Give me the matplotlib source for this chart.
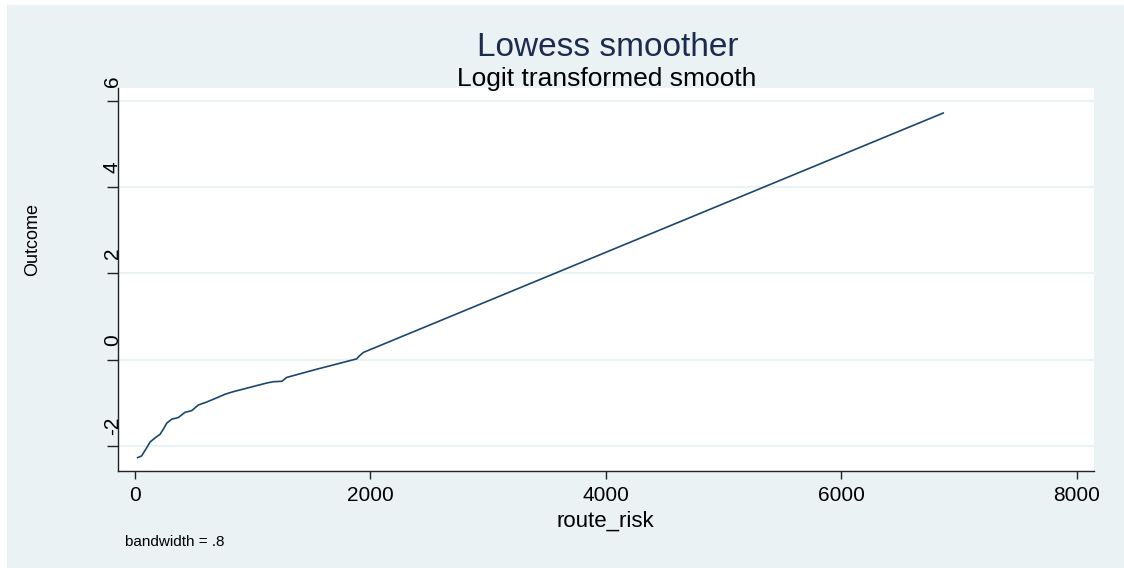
import numpy as np
import matplotlib.pyplot as plt
from matplotlib.patches import Rectangle
from matplotlib.transforms import ScaledTranslation

plt.rcParams['font.family'] = ['Liberation Sans', 'DejaVu Sans']

route_risk = [24, 58, 78, 101, 129, 172, 214, 242, 271, 313, 369, 426, 483,
              539, 611, 681, 766, 837, 978, 1120, 1176, 1248, 1290, 1545,
              1884, 1907, 1941, 6864]
outcome = [-2.27, -2.23, -2.14, -2.04, -1.91, -1.81, -1.73, -1.61, -1.47,
           -1.38, -1.34, -1.22, -1.18, -1.05, -0.98, -0.90, -0.80, -0.74,
           -0.64, -0.54, -0.51, -0.50, -0.41, -0.22, 0.02, 0.09, 0.17, 5.72]

x_ticks = [0, 2000, 4000, 6000, 8000]
y_ticks = [-2, 0, 2, 4, 6]

bg = '#eaf2f3'
navy = '#1a476f'

fig = plt.figure(figsize=(11.24, 5.68), dpi=100, facecolor='white')
fig.patches.append(Rectangle((7/1124, 0), 1, 1 - 5/568, transform=fig.transFigure,
                             facecolor=bg, edgecolor='none', zorder=-10))

ax = fig.add_axes([118/1124, 1 - 471/568, (1094 - 118)/1124, (471 - 88)/568])
ax.set_zorder(1)
ax.set_facecolor('white')
ax.plot(route_risk, outcome, '-', color=navy, linewidth=1.2, zorder=3)

ax.set_xlim(-143, 8144)
ax.set_ylim(-2.58, 6.3)
ax.set_xticks(x_ticks)
ax.set_yticks(y_ticks)
ax.set_yticklabels([str(v) for v in y_ticks], rotation=90, va='center')
ax.grid(axis='y', color=bg, linewidth=1.5)
ax.set_axisbelow(True)

for s in ['top', 'right']:
    ax.spines[s].set_visible(False)
for s in ['left', 'bottom']:
    ax.spines[s].set_color('#222222')
    ax.spines[s].set_linewidth(1.0)

ax.tick_params(axis='x', length=6, width=1.0, pad=5, labelsize=15, colors='#222222', labelcolor='black')
ax.tick_params(axis='y', length=8, width=1.0, pad=0, labelsize=15, colors='#222222', labelcolor='black')

offset = ScaledTranslation(0.15, 0.20, fig.dpi_scale_trans)
for lab in ax.get_yticklabels():
    lab.set_transform(lab.get_transform() + offset)

fig.text(608/1124, 1 - 56/568, 'Lowess smoother', ha='center', va='baseline',
         fontsize=24, color='#1c2b4f')
fig.text(607/1124, 1 - 86/568, 'Logit transformed smooth', ha='center', va='baseline',
         fontsize=19, color='black')
fig.text(605/1124, 1 - 527/568, 'route_risk', ha='center', va='baseline', fontsize=16)
fig.text(33/1124, 1 - 240/568, 'Outcome', ha='center', va='center', rotation=90, fontsize=13)
fig.text(125/1124, 1 - 546/568, 'bandwidth = .8', ha='left', va='baseline', fontsize=11)

fig.savefig('out.png', dpi=100, facecolor=fig.get_facecolor())
